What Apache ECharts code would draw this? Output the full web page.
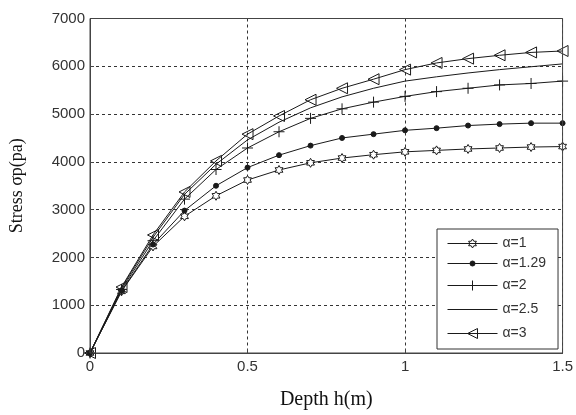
<!DOCTYPE html>
<html>
<head>
<meta charset="utf-8">
<script src="https://cdn.jsdelivr.net/npm/echarts@6/dist/echarts.min.js"></script>
<style>
html,body{margin:0;padding:0;background:#fff;}
#chart{width:576px;height:415px;}
</style>
</head>
<body>
<div id="chart"></div>
<script>
// Depth h (m)
var depth = [0, 0.1, 0.2, 0.3, 0.4, 0.5, 0.6, 0.7, 0.8, 0.9, 1.0, 1.1, 1.2, 1.3, 1.4, 1.5];
// Stress values (pa)
var alpha1   = [0, 1290, 2230, 2860, 3290, 3620, 3830, 3980, 4080, 4150, 4210, 4240, 4270, 4290, 4310, 4320];
var alpha129 = [0, 1300, 2270, 2980, 3500, 3880, 4140, 4340, 4500, 4580, 4660, 4705, 4760, 4790, 4810, 4810];
var alpha2   = [0, 1330, 2350, 3220, 3840, 4290, 4630, 4910, 5110, 5250, 5370, 5470, 5540, 5610, 5640, 5690];
var alpha25  = [0, 1360, 2420, 3320, 3950, 4460, 4830, 5130, 5360, 5540, 5690, 5780, 5860, 5930, 5990, 6050];
var alpha3   = [0, 1380, 2470, 3370, 4020, 4580, 4960, 5300, 5540, 5730, 5930, 6070, 6160, 6230, 6290, 6320];
var seriesNames = ['\u03b1=1', '\u03b1=1.29', '\u03b1=2', '\u03b1=2.5', '\u03b1=3'];
var xTicks = [0, 0.5, 1, 1.5];
var yTicks = [0, 1000, 2000, 3000, 4000, 5000, 6000, 7000];

function pairs(ys) { return depth.map(function (x, i) { return [x, ys[i]]; }); }

// six-pointed star outline (path string, centred at cx,cy)
function starPts(cx, cy, R) {
  var pts = [];
  for (var k = 0; k < 12; k++) {
    var r = (k % 2 === 0) ? R : R * 0.577;
    var a = Math.PI / 2 + k * Math.PI / 6;
    pts.push((cx + r * Math.cos(a)).toFixed(2) + ',' + (cy - r * Math.sin(a)).toFixed(2));
  }
  return 'M' + pts.join('L') + 'Z';
}
var symHex = 'path://' + starPts(10, 10, 10);
var symPlus = 'path://M0,5L10,5M5,0L5,10';
var symTri = 'path://M0,5L10,0L10,10Z';

// legend icons: 50 x 14 box, anchored by the corner move-tos
var anchor = 'M0,0M50,14';
var legLine = 'M0,7L50,7';
var legendIcons = [
  'path://' + anchor + legLine + starPts(25, 7, 4.5),
  'path://' + anchor + legLine + 'M22.5,7A2.5,2.5 0 1 1 27.5,7A2.5,2.5 0 1 1 22.5,7Z',
  'path://' + anchor + legLine + 'M25,2L25,12',
  'path://' + anchor + legLine,
  'path://' + anchor + legLine + 'M20,7L30,2L30,12Z'
];
var legendFills = ['#fff', '#1a1a1a', 'none', 'none', 'none'];

var lineCol = '#1a1a1a';
function mk(name, data, symbol, size, fill) {
  return {
    name: name,
    type: 'line',
    data: pairs(data),
    symbol: symbol,
    symbolSize: size,
    symbolKeepAspect: true,
    showAllSymbol: true,
    lineStyle: { color: lineCol, width: 1 },
    itemStyle: { color: fill, borderColor: lineCol, borderWidth: 1 },
    emphasis: { disabled: true },
    animation: false,
    z: 3
  };
}

var chart = echarts.init(document.getElementById('chart'), null, { renderer: 'canvas' });
chart.setOption({
  backgroundColor: '#fff',
  animation: false,
  grid: { left: 88.5, right: 11, top: 18.5, bottom: 56.5, show: true, borderColor: '#444', borderWidth: 1, backgroundColor: 'transparent', z: 4 },
  xAxis: {
    type: 'value', min: 0, max: 1.5, interval: 0.5,
    name: 'Depth h(m)', nameLocation: 'middle', nameGap: 37,
    nameTextStyle: { fontFamily: 'Liberation Serif', fontSize: 20, color: '#111' },
    axisLine: { show: true, lineStyle: { color: '#444', width: 1 } },
    axisTick: { show: true, inside: true, length: 4, lineStyle: { color: '#444' } },
    axisLabel: { fontFamily: 'Liberation Sans', fontSize: 15, color: '#333', margin: 6,
      formatter: function (v) { return String(v); } },
    splitLine: { show: true, lineStyle: { color: '#333', type: [3, 3], width: 1 } }
  },
  yAxis: {
    type: 'value', min: 0, max: 7000, interval: 1000,
    name: 'Stress \u03c3p(pa)', nameLocation: 'middle', nameGap: 64,
    nameTextStyle: { fontFamily: 'Liberation Serif', fontSize: 18, color: '#111' },
    axisLine: { show: true, lineStyle: { color: '#444', width: 1 } },
    axisTick: { show: true, inside: true, length: 4, lineStyle: { color: '#444' } },
    axisLabel: { fontFamily: 'Liberation Sans', fontSize: 15, color: '#333', margin: 5,
      formatter: function (v) { return String(v); } },
    splitLine: { show: true, lineStyle: { color: '#333', type: [3, 3], width: 1 } }
  },
  legend: {
    orient: 'vertical', left: 437, top: 229,
    itemWidth: 50, itemHeight: 14, itemGap: 5,
    padding: [7, 12, 6, 8],
    symbolKeepAspect: true,
    backgroundColor: '#fff', borderColor: '#333', borderWidth: 1,
    textStyle: { fontFamily: 'Liberation Sans', fontSize: 14, color: '#333' },
    data: seriesNames.map(function (n, i) {
      return { name: n, icon: legendIcons[i],
        itemStyle: { color: legendFills[i], borderColor: lineCol, borderWidth: 1 } };
    }),
    selectedMode: false
  },
  series: [
    mk(seriesNames[0], alpha1, symHex, 9, '#fff'),
    mk(seriesNames[1], alpha129, 'circle', 5, lineCol),
    mk(seriesNames[2], alpha2, symPlus, 11, 'none'),
    mk(seriesNames[3], alpha25, 'none', 0, lineCol),
    mk(seriesNames[4], alpha3, symTri, 11, 'none')
  ]
});
</script>
</body>
</html>
